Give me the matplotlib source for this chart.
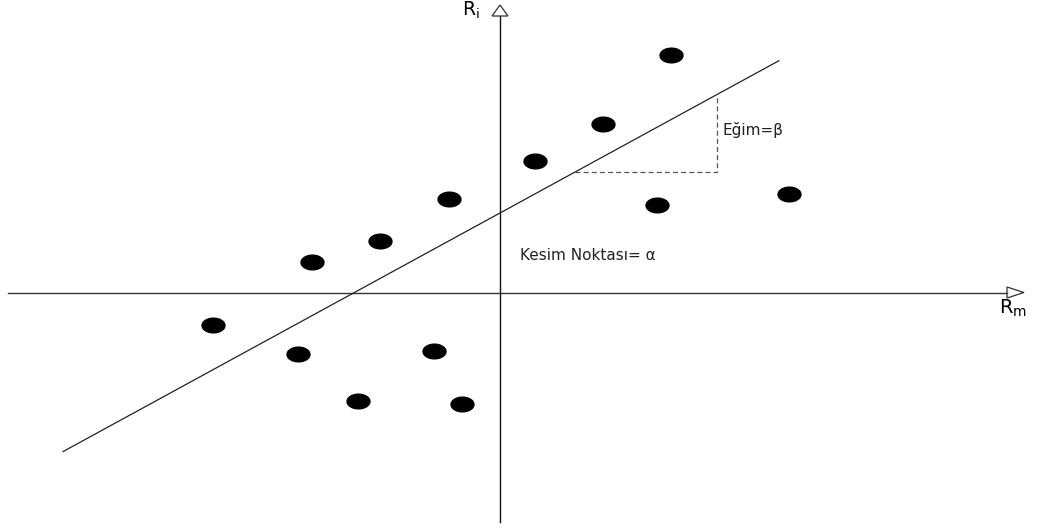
import matplotlib
matplotlib.use("Agg")
import matplotlib.pyplot as plt
from matplotlib.path import Path
from matplotlib.patches import Polygon
import numpy as np

plt.rcParams['font.family'] = ['DejaVu Sans']
plt.rcParams['mathtext.default'] = 'regular'

# Data (market return Rm vs asset return Ri)
rm = [1.71, 1.03, 0.35, -0.51, 1.57, 2.89, -1.20, -1.88, -2.87, -2.02, -0.66, -1.42, -0.38]
ri = [2.38, 1.69, 1.32, 0.94, 0.88, 0.99, 0.52, 0.31, -0.32, -0.61, -0.58, -1.08, -1.11]
alpha = 0.80
beta = 0.546
line_x = [-4.37, 2.79]
tri_x = [0.75, 2.17]

fig = plt.figure(figsize=(10.44, 5.29), dpi=100)
ax = fig.add_axes([0, 0, 1, 1])
ax.set_xlim(-5.00, 5.44)
ax.set_ylim(-2.36, 2.93)
ax.axis('off')

# axes lines
ax.plot([-4.92, 5.07], [0, 0], color='#333333', lw=1.0)
ax.plot([0, 0], [-2.29, 2.77], color='#111111', lw=1.0)
# open arrow heads
ax.add_patch(Polygon([[5.07, 0.06], [5.07, -0.05], [5.24, 0.005]], closed=True,
                     facecolor='white', edgecolor='#333333', lw=0.9))
ax.add_patch(Polygon([[-0.08, 2.77], [0.08, 2.77], [0.0, 2.88]], closed=True,
                     facecolor='white', edgecolor='#333333', lw=0.9))

# regression line
lx = np.array(line_x)
ax.plot(lx, alpha + beta * lx, color='#222222', lw=0.9)

# slope triangle
y0 = alpha + beta * tri_x[0]
y1 = alpha + beta * tri_x[1]
ax.plot([tri_x[0], tri_x[1], tri_x[1]], [y0, y0, y1], color='#555555', lw=0.9,
        ls=(0, (4, 2.5)))

# points (ellipse markers)
t = np.linspace(0, 2 * np.pi, 60)
ell = Path(np.column_stack([np.cos(t), 0.64 * np.sin(t)]), closed=True)
ax.plot(rm, ri, ls='none', marker=ell, markersize=16.5, color='black')

# texts
ax.text(-0.38, 2.77, r'R$_{i}$', fontsize=13.5, ha='left', va='baseline')
ax.text(4.99, -0.21, r'R$_{m}$', fontsize=14, ha='left', va='baseline')
ax.text(2.23, 1.63, 'Eğim=β', fontsize=11, ha='left', va='center', color='#222222')
ax.text(0.20, 0.38, 'Kesim Noktası= α', fontsize=11, ha='left', va='center', color='#222222')

fig.savefig('out.png', dpi=100)
